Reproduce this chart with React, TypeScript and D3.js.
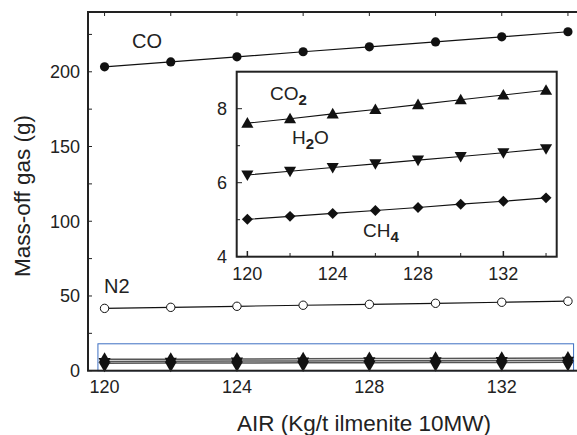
import React from "react";
import * as d3 from "d3";

const air = [120, 122, 124, 126, 128, 130, 132, 134];
const co = [203.3, 206.6, 210, 213.4, 216.7, 220, 223.4, 226.8];
const n2 = [41.7, 42.4, 43.1, 43.8, 44.4, 45.1, 45.8, 46.5];
const co2 = [7.61, 7.73, 7.86, 7.98, 8.11, 8.24, 8.37, 8.5];
const h2o = [6.21, 6.31, 6.41, 6.51, 6.61, 6.71, 6.81, 6.92];
const ch4 = [5.01, 5.09, 5.17, 5.25, 5.33, 5.42, 5.5, 5.59];

const mainXTicks = [120, 124, 128, 132];
const mainYTicks = [0, 50, 100, 150, 200];
const insetXTicks = [120, 124, 128, 132];
const insetYTicks = [4, 6, 8];

const font = "'Liberation Sans', Arial, sans-serif";

const App = () => {
  const width = 577;
  const height = 435;

  // main panel
  const x = d3.scaleLinear().domain([119.5, 135.5]).range([88, 617.6]);
  const y = d3.scaleLinear().domain([0, 240]).range([370.7, 12]);

  // inset panel
  const ix = d3.scaleLinear().domain([119.5, 134.5]).range([236.7, 556.7]);
  const iy = d3.scaleLinear().domain([4, 9]).range([256.7, 71.7]);

  const line = (xs: d3.ScaleLinear<number, number>, ys: d3.ScaleLinear<number, number>) =>
    d3
      .line<number>()
      .x((_, i) => xs(air[i]))
      .y((d) => ys(d));

  const triUp = d3.symbol().type(d3.symbolTriangle).size(64)()!;
  const diamond = d3.symbol().type(d3.symbolSquare).size(60)()!;
  const tallDiamond = d3.symbol().type(d3.symbolDiamond).size(95)()!;

  const markers = (
    vals: number[],
    xs: d3.ScaleLinear<number, number>,
    ys: d3.ScaleLinear<number, number>,
    path: string,
    rot: number,
    dy = 0
  ) =>
    vals.map((v, i) => (
      <path
        key={i}
        d={path}
        fill="#111"
        transform={`translate(${xs(air[i])},${ys(v) + dy}) rotate(${rot})`}
      />
    ));

  const minorX = d3.range(120, 136, 2);
  const minorY = d3.range(0, 241, 25);
  const insetMinorX = d3.range(120, 135, 2);
  const insetMinorY = d3.range(4, 9.1, 1);

  return (
    <svg
      width={width}
      height={height}
      style={{ position: "absolute", left: 0, top: 0, background: "#fff" }}
      fontFamily={font}
    >
      {/* CO */}
      <path d={line(x, y)(co)!} fill="none" stroke="#111" strokeWidth={1.2} />
      {co.map((v, i) => (
        <circle key={i} cx={x(air[i])} cy={y(v)} r={4.6} fill="#111" />
      ))}
      <text x={132} y={48} fontSize={20} fill="#222">CO</text>

      {/* N2 */}
      <path d={line(x, y)(n2)!} fill="none" stroke="#111" strokeWidth={1.2} />
      {n2.map((v, i) => (
        <circle key={i} cx={x(air[i])} cy={y(v)} r={4.2} fill="#fff" stroke="#111" strokeWidth={1} />
      ))}
      <text x={104} y={293} fontSize={20} fill="#222">N2</text>

      {/* small gases on main axes */}
      <rect
        x={x(119.8)}
        y={y(18)}
        width={x(134.17) - x(119.8)}
        height={y(0) - y(18)}
        fill="none"
        stroke="#3d6fc2"
        strokeWidth={1}
      />
      {[co2, h2o, ch4].map((s, k) => (
        <path key={k} d={line(x, y)(s)!} fill="none" stroke="#555" strokeWidth={1.5} />
      ))}
      {markers(co2, x, y, triUp, 0)}
      {markers(h2o, x, y, triUp, 180)}
      {markers(ch4, x, y, tallDiamond, 0)}

      {/* main frame */}
      <rect x={88} y={12} width={560} height={358.7} fill="none" stroke="#222" strokeWidth={2} />
      {minorX.map((t) => (
        <line key={"tx" + t} x1={x(t)} x2={x(t)} y1={12} y2={16} stroke="#222" strokeWidth={1} />
      ))}
      {minorY.map((t) => (
        <line key={"ty" + t} x1={88} x2={92} y1={y(t)} y2={y(t)} stroke="#222" strokeWidth={1} />
      ))}
      {mainYTicks.map((t) => (
        <text key={"yl" + t} x={80} y={y(t)} dy="0.35em" textAnchor="end" fontSize={18} fill="#222">
          {t}
        </text>
      ))}
      {mainXTicks.map((t) => (
        <text key={"xl" + t} x={x(t)} y={393} textAnchor="middle" fontSize={18} fill="#222">
          {t}
        </text>
      ))}
      <text x={364} y={431} textAnchor="middle" fontSize={22.5} fill="#222">
        AIR (Kg/t ilmenite 10MW)
      </text>
      <text
        transform="translate(30,196) rotate(-90)"
        textAnchor="middle"
        fontSize={22.5}
        fill="#222"
      >
        Mass-off gas (g)
      </text>

      {/* inset */}
      <rect x={236.7} y={71.7} width={320} height={185} fill="#fff" stroke="#222" strokeWidth={2} />
      {insetMinorX.map((t) => (
        <line key={"ix" + t} x1={ix(t)} x2={ix(t)} y1={256.7} y2={t % 4 === 0 ? 251 : 253} stroke="#222" strokeWidth={t % 4 === 0 ? 1.5 : 1} />
      ))}
      {insetMinorY.map((t) => (
        <line key={"iy" + t} x1={236.7} x2={t % 2 === 0 ? 242 : 240} y1={iy(t)} y2={iy(t)} stroke="#222" strokeWidth={1} />
      ))}
      {insetXTicks.map((t) => (
        <text key={"ixl" + t} x={ix(t)} y={280} textAnchor="middle" fontSize={18} fill="#222">
          {t}
        </text>
      ))}
      {insetYTicks.map((t) => (
        <text key={"iyl" + t} x={227} y={iy(t)} dy="0.35em" textAnchor="end" fontSize={18} fill="#222">
          {t}
        </text>
      ))}
      {[co2, h2o, ch4].map((s, k) => (
        <path key={k} d={line(ix, iy)(s)!} fill="none" stroke="#111" strokeWidth={1.1} />
      ))}
      {markers(co2, ix, iy, triUp, 0, 1)}
      {markers(h2o, ix, iy, triUp, 180, -1)}
      {markers(ch4, ix, iy, diamond, 45)}

      <text x={270} y={100} fontSize={19} fill="#222">
        CO<tspan dy={5} fontSize={15} fontWeight="bold">2</tspan>
      </text>
      <text x={292} y={144} fontSize={19} fill="#222">
        H<tspan dy={5} fontSize={15} fontWeight="bold">2</tspan>
        <tspan dy={-5}>O</tspan>
      </text>
      <text x={363} y={237} fontSize={19} fill="#222">
        CH<tspan dy={5} fontSize={15} fontWeight="bold">4</tspan>
      </text>
    </svg>
  );
};

export default App;
